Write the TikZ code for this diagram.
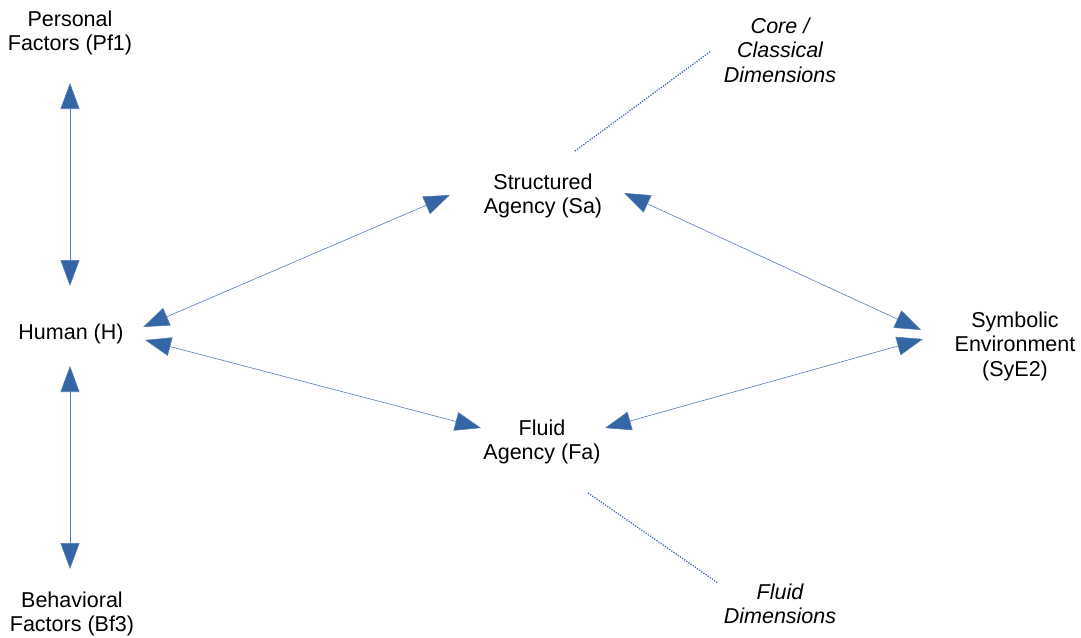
\documentclass[tikz,border=0pt]{standalone}
\usepackage{fontspec}
\setmainfont{Liberation Sans}
\usetikzlibrary{arrows.meta}
\definecolor{linkblue}{HTML}{3465A4}
\tikzset{
  label/.style={align=center, inner sep=0pt, font=\fontsize{21.5}{24.5}\selectfont},
  note/.style={label, font=\fontsize{21.5}{24.5}\selectfont\itshape},
  link/.style={draw=linkblue!85, line width=0.6pt,
    {Triangle[length=26pt,width=19pt,fill=linkblue]}-{Triangle[length=26pt,width=19pt,fill=linkblue]}},
  hint/.style={draw=linkblue, line width=1.3pt, dash pattern=on 1.2pt off 1.4pt}
}
\begin{document}
\begin{tikzpicture}[x=1pt,y=-1pt]
\useasboundingbox (0,0) rectangle (1081,637);

% concepts
\node[label] (pf) at (70,33) {Personal\\Factors (Pf1)};
\node[label] (h)  at (71,334) {Human (H)};
\node[label] (bf) at (72,614) {Behavioral\\Factors (Bf3)};
\node[label] (sa) at (543,196) {Structured\\Agency (Sa)};
\node[label] (fa) at (542,442) {Fluid\\Agency (Fa)};
\node[label] (sy) at (1015,346) {Symbolic\\Environment\\(SyE2)};
\node[note]  (core) at (780,50) {Core /\\Classical\\Dimensions};
\node[note]  (fluid) at (780,604) {Fluid\\Dimensions};

% arrow end points next to the concepts
\coordinate (pf-h) at (70,83);
\coordinate (h-pf) at (70,286);
\coordinate (h-bf) at (70,366);
\coordinate (bf-h) at (70,569);
\coordinate (h-sa) at (143,327);
\coordinate (sa-h) at (450,195);
\coordinate (h-fa) at (145,340);
\coordinate (fa-h) at (481,428);
\coordinate (sa-sy) at (624,193);
\coordinate (sy-sa) at (921,330);
\coordinate (fa-sy) at (605,428);
\coordinate (sy-fa) at (923,339);
\coordinate (core-end) at (711,51);
\coordinate (core-tail) at (575,151);
\coordinate (fluid-end) at (718,583);
\coordinate (fluid-tail) at (588,493);

% relations
\draw[link] (pf-h) -- (h-pf);
\draw[link] (h-bf) -- (bf-h);
\draw[link] (h-sa) -- (sa-h);
\draw[link] (h-fa) -- (fa-h);
\draw[link] (sa-sy) -- (sy-sa);
\draw[link] (fa-sy) -- (sy-fa);

% dimension pointers
\draw[hint] (core-tail) -- (core-end);
\draw[hint] (fluid-tail) -- (fluid-end);
\end{tikzpicture}
\end{document}
